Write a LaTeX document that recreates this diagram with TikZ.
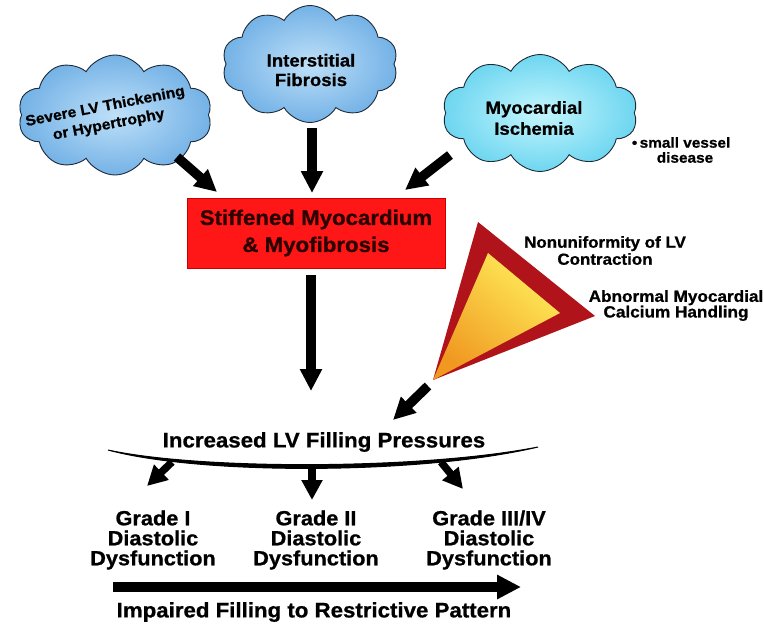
\documentclass[tikz,border=0pt]{standalone}
\usepackage{fontspec}
\setmainfont{Liberation Sans}[FakeStretch=1.06, BoldFeatures={FakeBold=0.8}]
\usetikzlibrary{shapes.symbols,arrows.meta}
\definecolor{cloudAin}{HTML}{BEE0F8}
\definecolor{cloudAout}{HTML}{74B2E6}
\definecolor{cloudBin}{HTML}{C4F6FD}
\definecolor{cloudBout}{HTML}{6ED6F0}
\definecolor{cloudline}{HTML}{1E2A38}
\definecolor{boxred}{HTML}{FF1616}
\definecolor{boxline}{HTML}{C80000}
\definecolor{boxtext}{HTML}{2A0000}
\definecolor{trired}{HTML}{B0141A}
\definecolor{triyel}{HTML}{FFEC5A}
\definecolor{triora}{HTML}{F09820}
\begin{document}
\begin{tikzpicture}[x=1pt,y=-1pt,
  cloudbox/.style={cloud, cloud puffs=10, cloud puff arc=120, cloud ignores aspect,
    draw=cloudline, line width=0.9pt, inner sep=0pt},
  bigarr/.style={line width=9.5pt, -{Triangle[width=21pt,length=22pt]}},
  smallarr/.style={line width=7.5pt, -{Triangle[width=20pt,length=20pt]}},
  lbl/.style={align=center, inner sep=0pt, text=black}]
\useasboundingbox (0,0) rectangle (764,625);
\fill[white] (0,0) rectangle (764,625);

% clouds
\node[cloudbox, minimum width=194pt, minimum height=120pt,
  inner color=cloudAin, outer color=cloudAout] (c1) at (115,115) {};
\node[cloudbox, minimum width=176pt, minimum height=117pt,
  inner color=cloudAin, outer color=cloudAout] (c2) at (310,64) {};
\node[cloudbox, minimum width=195pt, minimum height=117pt,
  inner color=cloudBin, outer color=cloudBout] (c3) at (540,113) {};

\node[lbl, rotate=11, font=\bfseries\fontsize{14.8}{18.5}\selectfont] (t1) at (107,116)
  {Severe LV Thickening\\or Hypertrophy};
\node[lbl, font=\bfseries\fontsize{17.5}{19.5}\selectfont] (t2) at (311,70)
  {Interstitial\\Fibrosis};
\node[lbl, font=\bfseries\fontsize{17.5}{21}\selectfont] (t3) at (534,118)
  {Myocardial\\Ischemia};
\node[lbl, font=\bfseries\fontsize{14.5}{15}\selectfont] (sv) at (685,150)
  {\llap{\textbullet\,}small vessel\\disease};

% box
\node[draw=boxline, line width=0.8pt, fill=boxred, minimum width=258pt, minimum height=70pt,
  lbl, text=boxtext, font=\bfseries\fontsize{21}{27}\selectfont] (box) at (316,233)
  {Stiffened Myocardium\\\& Myofibrosis};

% arrows into box
\coordinate (a1s) at (177,157); \coordinate (a1e) at (217,192);
\coordinate (a2s) at (312,128); \coordinate (a2e) at (312,193);
\coordinate (a3s) at (450,155); \coordinate (a3e) at (405,190);
\draw[bigarr] (a1s) -- (a1e);
\draw[bigarr] (a2s) -- (a2e);
\draw[bigarr] (a3s) -- (a3e);

% arrow down from box
\coordinate (a4s) at (311,275); \coordinate (a4e) at (311,391);
\draw[bigarr] (a4s) -- (a4e);

% triangle
\coordinate (tA) at (478,222); \coordinate (tB) at (595,316); \coordinate (tC) at (433,380);
\coordinate (iA) at (488,253); \coordinate (iB) at (560,313);
\fill[trired] (tA) -- (tB) -- (tC) -- cycle;
\shade[top color=triyel, bottom color=triora, shading angle=-40] (iA) -- (iB) -- (tC) -- cycle;

\node[lbl, font=\bfseries\fontsize{16}{17}\selectfont] (nu) at (605,250.5)
  {Nonuniformity of LV\\Contraction};
\node[lbl, font=\bfseries\fontsize{16.2}{15.6}\selectfont] (ab) at (676,305.5)
  {Abnormal Myocardial\\Calcium Handling};

% arrow from triangle
\coordinate (a5s) at (428,386); \coordinate (a5e) at (393,420);
\draw[bigarr] (a5s) -- (a5e);

% pressures
\node[lbl, font=\bfseries\fontsize{21}{24}\selectfont] (press) at (324,442)
  {Increased LV Filling Pressures};
\filldraw[black, line width=1pt] (108,450) .. controls (200,470) and (420,470) .. (538,447)
  .. controls (420,475) and (200,475) .. (108,450) -- cycle;

\coordinate (g1s) at (172,462); \coordinate (g1e) at (147,486);
\coordinate (g2s) at (312,468); \coordinate (g2e) at (312,500);
\coordinate (g3s) at (441,462); \coordinate (g3e) at (463,489);
\draw[smallarr] (g1s) -- (g1e);
\draw[smallarr] (g2s) -- (g2e);
\draw[smallarr] (g3s) -- (g3e);

% grades
\node[lbl, font=\bfseries\fontsize{20.5}{20}\selectfont] (gr1) at (153,540)
  {Grade I\\Diastolic\\Dysfunction};
\node[lbl, font=\bfseries\fontsize{20.5}{20}\selectfont] (gr2) at (316,540)
  {Grade II\\Diastolic\\Dysfunction};
\node[lbl, font=\bfseries\fontsize{20.5}{20}\selectfont] (gr3) at (489,540)
  {Grade III/IV\\Diastolic\\Dysfunction};

% bottom arrow
\coordinate (bs) at (113,587); \coordinate (be) at (521,587);
\draw[line width=10.5pt, -{Triangle[width=23pt,length=24pt]}] (bs) -- (be);
\node[lbl, font=\bfseries\fontsize{21}{24}\selectfont] (imp) at (314,612)
  {Impaired Filling to Restrictive Pattern};
\end{tikzpicture}
\end{document}
